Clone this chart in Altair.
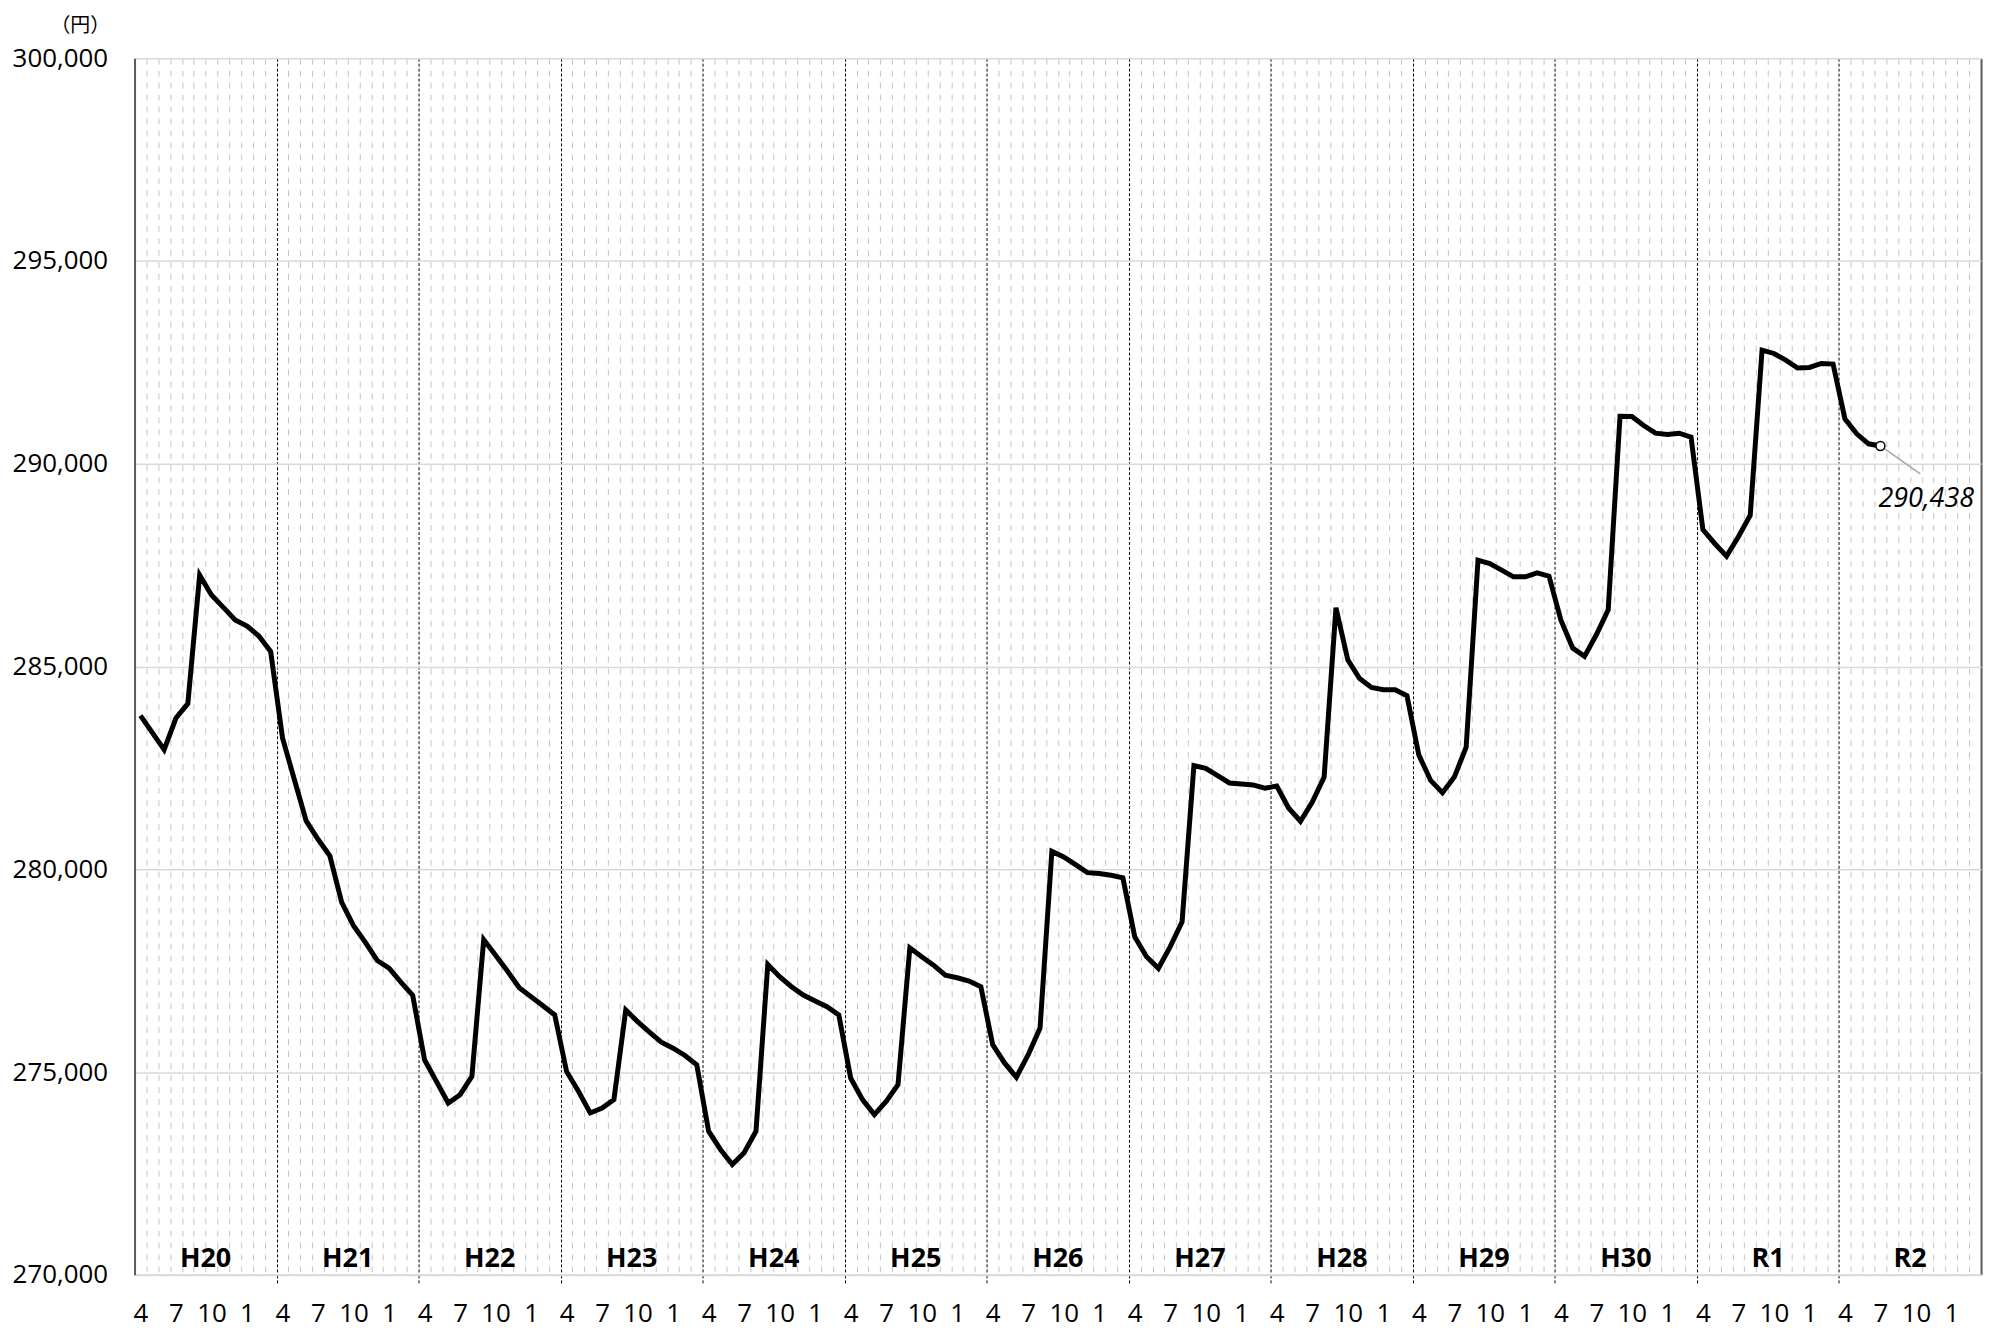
import json
import altair as alt
import pandas as pd

# ---- data ----
years = ["H20", "H21", "H22", "H23", "H24", "H25", "H26", "H27", "H28", "H29", "H30", "R1", "R2"]
month_order = [4, 5, 6, 7, 8, 9, 10, 11, 12, 1, 2, 3]
tick_months = [4, 7, 10, 1]
y_ticks = [270000, 275000, 280000, 285000, 290000, 295000, 300000]

h20 = [283788, 283370, 282952, 283730, 284083, 287252, 286761, 286458, 286147, 285999, 285753, 285368]
h21 = [283239, 282215, 281192, 280741, 280332, 279185, 278612, 278200, 277752, 277563, 277219, 276892]
h22 = [275303, 274771, 274238, 274443, 274894, 278268, 277883, 277490, 277080, 276859, 276638, 276409]
h23 = [275016, 274525, 273993, 274116, 274320, 276532, 276245, 275983, 275737, 275590, 275410, 275180]
h24 = [273542, 273092, 272723, 273010, 273542, 277654, 277350, 277105, 276900, 276753, 276613, 276409]
h25 = [274853, 274320, 273952, 274279, 274689, 278063, 277842, 277637, 277391, 277326, 277244, 277105]
h26 = [275676, 275225, 274873, 275430, 276085, 280442, 280303, 280115, 279918, 279894, 279853, 279787]
h27 = [278337, 277846, 277559, 278092, 278706, 282555, 282490, 282310, 282129, 282105, 282080, 281998]
h28 = [282052, 281511, 281184, 281658, 282273, 286450, 285164, 284705, 284484, 284427, 284427, 284279]
h29 = [282821, 282191, 281888, 282273, 283010, 287621, 287539, 287375, 287211, 287211, 287310, 287228]
h30 = [286150, 285455, 285250, 285782, 286396, 291171, 291163, 290942, 290753, 290721, 290753, 290655]
r1 = [288378, 288034, 287723, 288198, 288731, 292801, 292719, 292555, 292359, 292375, 292473, 292457]
r2 = [291106, 290737, 290491, 290438]

series = [h20, h21, h22, h23, h24, h25, h26, h27, h28, h29, h30, r1, r2]

# ---- tables ----
rows = []
for k, (yr, vals) in enumerate(zip(years, series)):
    for j, v in enumerate(vals):
        rows.append({"x": k * 12 + j + 0.5, "v": v, "year": yr, "month": month_order[j]})
df = pd.DataFrame(rows)
last = df.tail(1)

ydf = pd.DataFrame({"year": years, "x": [k * 12 + 6 for k in range(len(years))],
                    "v": [y_ticks[0]] * len(years)})

n_months = 12 * len(years)
FONT = "Open Sans"

label_pos = [k * 12 + month_order.index(m) + 0.5 for k in range(len(years)) for m in tick_months]
x_values = list(range(n_months + 1)) + label_pos
label_expr = (
    "datum.value % 1 == 0.5 ? '' + " + json.dumps(month_order)
    + "[floor(datum.value) % 12] : ''"
)

x_scale = alt.Scale(domain=[0, n_months], nice=False, zero=False)
y_scale = alt.Scale(domain=[y_ticks[0], y_ticks[-1]], nice=False, zero=False)

x_axis = alt.Axis(
    values=x_values,
    labelExpr=label_expr,
    labelOverlap=False,
    labelFlush=False,
    labelFont=FONT,
    labelFontSize=26,
    labelColor="black",
    labelPadding=16,
    tickSize=10,
    tickColor="black",
    tickWidth=1,
    tickDash=[3, 2],
    tickOpacity={"expr": f"datum.value % 12 == 0 && datum.value > 0 && datum.value < {n_months} ? 1 : 0"},
    grid=True,
    gridColor={"expr": f"datum.value == {n_months} ? '#595959' : (datum.value % 12 == 0 ? '#000000' : '#c4c4c4')"},
    gridDash={"expr": f"datum.value == {n_months} ? [] : (datum.value % 12 == 0 ? [3, 2] : [6, 6])"},
    gridWidth={"expr": f"datum.value == {n_months} ? 2 : 1"},
    gridOpacity={"expr": "datum.value % 1 == 0 && datum.value > 0 ? 1 : 0"},
    domainColor="#d9d9d9",
    domainWidth=2,
    title=None,
)

y_axis = alt.Axis(
    values=y_ticks,
    labelExpr="format(datum.value, ',')",
    labelFont=FONT,
    labelFontSize=26,
    labelColor="black",
    labelPadding=27,
    ticks=False,
    tickSize=0,
    domainColor="#595959",
    domainWidth=2,
    grid=True,
    gridColor="#d9d9d9",
    gridWidth=1.5,
    title="（円）",
    titleAngle=0,
    titleX=-55,
    titleY=-33,
    titleAlign="center",
    titleBaseline="middle",
    titleFont="Noto Sans CJK JP",
    titleFontSize=20,
    titleFontWeight="normal",
    titleColor="black",
)

X = alt.X("x:Q", scale=x_scale, axis=x_axis)
Y = alt.Y("v:Q", scale=y_scale, axis=y_axis)

line = alt.Chart(df).mark_line(color="black", strokeWidth=5).encode(x=X, y=Y)

year_text = alt.Chart(ydf).mark_text(
    font=FONT, fontSize=27, fontWeight="bold", color="black", baseline="bottom", dy=-2
).encode(x=X, y=Y, text="year:N")

leader = alt.Chart(last).mark_rule(
    color="#a6a6a6", strokeWidth=1.5, x2Offset=40, y2Offset=28
).encode(x=X, x2="x:Q", y=Y, y2="v:Q")

marker = alt.Chart(last).mark_point(
    shape="circle", filled=True, fill="white", stroke="black", strokeWidth=1.5, size=80, opacity=1
).encode(x=X, y=Y)

label = alt.Chart(last).mark_text(
    font=FONT, fontSize=27, fontStyle="italic", color="black", align="center", baseline="middle", dx=46, dy=53
).encode(x=X, y=Y, text=alt.Text("v:Q", format=","))

chart = (
    alt.layer(line, year_text, leader, marker, label)
    .properties(
        width=1853,
        height=1221,
        padding={"left": 127, "top": 48, "right": 10, "bottom": 58},
        autosize=alt.AutoSizeParams(type="none"),
        background="white",
    )
    .configure_view(strokeWidth=0)
)

chart.save("out.html", embed_options={"renderer": "svg", "actions": False})
